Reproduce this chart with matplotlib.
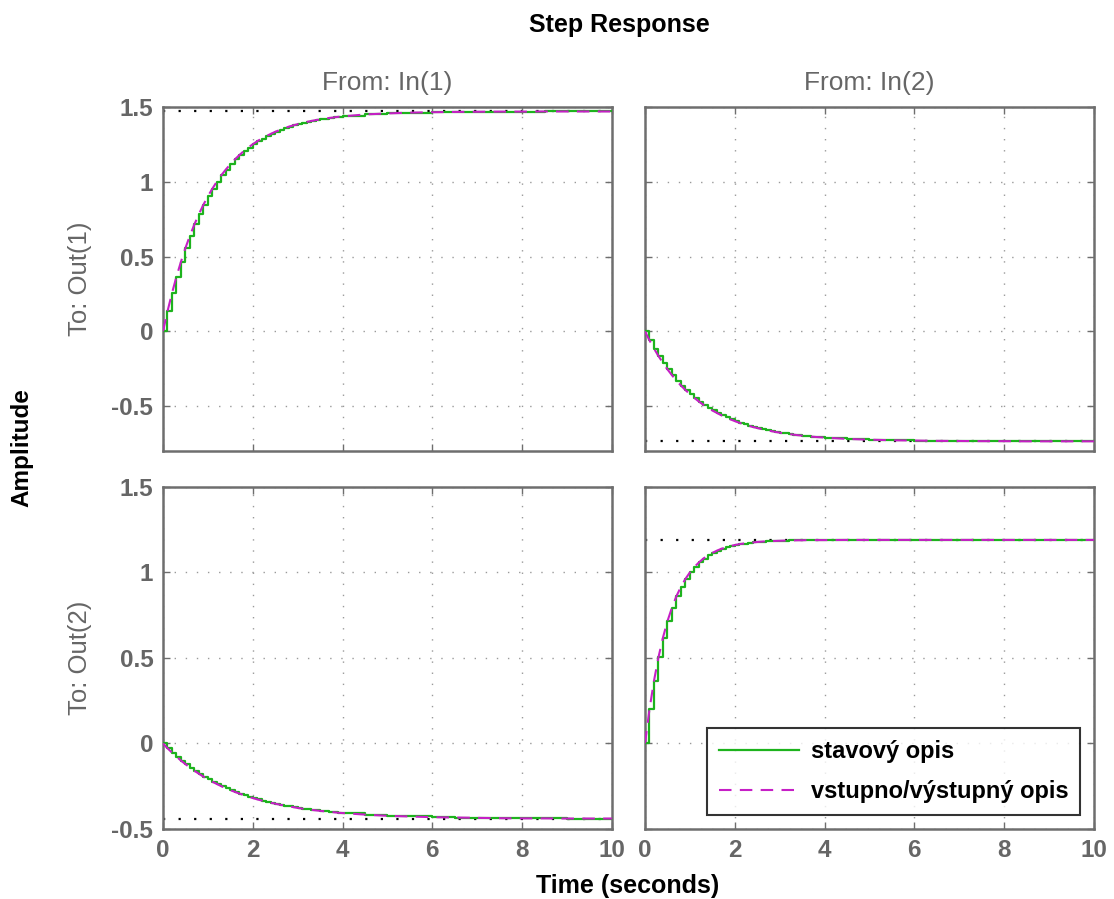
import matplotlib
matplotlib.use('Agg')
import matplotlib.pyplot as plt

plt.rcParams['font.family'] = ['Liberation Sans', 'DejaVu Sans']
plt.rcParams['axes.unicode_minus'] = False

# sample times (0.1 s steps at the start, coarser once the responses have settled)
t = [0.0, 0.1, 0.2, 0.3, 0.4, 0.5, 0.6, 0.7, 0.8, 0.9,
     1.0, 1.1, 1.2, 1.3, 1.4, 1.5, 1.6, 1.7, 1.8, 1.9,
     2.0, 2.1, 2.2, 2.3, 2.4, 2.5, 2.6, 2.7, 2.8, 2.9,
     3.0, 3.1, 3.2, 3.3, 3.4, 3.5, 3.6, 3.7, 3.8, 3.9,
     4.0, 4.5, 5.0, 5.5, 6.0, 6.5, 7.0, 7.5, 8.0, 8.5, 9.0, 9.5, 10.0]

# From In(1) to Out(1)
y11 = [0.0, 0.133, 0.255, 0.365, 0.465, 0.557, 0.640, 0.715, 0.784, 0.846,
       0.903, 0.954, 1.001, 1.044, 1.082, 1.117, 1.149, 1.178, 1.205, 1.229,
       1.251, 1.271, 1.289, 1.305, 1.320, 1.334, 1.346, 1.358, 1.368, 1.377,
       1.385, 1.393, 1.400, 1.406, 1.412, 1.417, 1.422, 1.426, 1.430, 1.434,
       1.437, 1.450, 1.457, 1.462, 1.465, 1.467, 1.468, 1.469, 1.469, 1.470, 1.470, 1.470, 1.470]
# From In(2) to Out(1)
y12 = [0.0, -0.060, -0.115, -0.165, -0.211, -0.254, -0.293, -0.329, -0.362, -0.392,
       -0.420, -0.445, -0.469, -0.491, -0.510, -0.529, -0.545, -0.561, -0.575, -0.588,
       -0.600, -0.611, -0.621, -0.630, -0.639, -0.646, -0.654, -0.660, -0.666, -0.672,
       -0.677, -0.682, -0.686, -0.690, -0.694, -0.697, -0.700, -0.703, -0.706, -0.708,
       -0.710, -0.719, -0.724, -0.728, -0.730, -0.732, -0.733, -0.734, -0.734, -0.735, -0.735, -0.735, -0.735]
# From In(1) to Out(2)
y21 = [0.0, -0.028, -0.053, -0.077, -0.100, -0.121, -0.141, -0.160, -0.177, -0.194,
       -0.209, -0.224, -0.237, -0.250, -0.262, -0.273, -0.283, -0.293, -0.302, -0.311,
       -0.319, -0.327, -0.334, -0.340, -0.347, -0.352, -0.358, -0.363, -0.368, -0.372,
       -0.377, -0.381, -0.384, -0.388, -0.391, -0.394, -0.397, -0.400, -0.402, -0.405,
       -0.407, -0.416, -0.423, -0.427, -0.431, -0.433, -0.435, -0.437, -0.438, -0.438, -0.439, -0.439, -0.439]
# From In(2) to Out(2)
y22 = [0.0, 0.200, 0.366, 0.504, 0.619, 0.715, 0.794, 0.861, 0.916, 0.962,
       1.000, 1.032, 1.058, 1.081, 1.099, 1.114, 1.127, 1.138, 1.146, 1.154,
       1.160, 1.165, 1.169, 1.173, 1.175, 1.178, 1.180, 1.182, 1.183, 1.184,
       1.185, 1.186, 1.187, 1.187, 1.188, 1.188, 1.189, 1.189, 1.189, 1.189,
       1.189, 1.190, 1.190, 1.190, 1.190, 1.190, 1.190, 1.190, 1.190, 1.190, 1.190, 1.190, 1.190]

finals = [[1.47, -0.735], [-0.44, 1.19]]
responses = [[y11, y12], [y21, y22]]

in_labels = ['From: In(1)', 'From: In(2)']
out_labels = ['To: Out(1)', 'To: Out(2)']
row_ylims = [(-0.8, 1.5), (-0.5, 1.5)]
yticks = [-0.5, 0, 0.5, 1, 1.5]
ytick_labels = ['-0.5', '0', '0.5', '1', '1.5']
xticks = [0, 2, 4, 6, 8, 10]
xtick_labels = ['0', '2', '4', '6', '8', '10']

green = '#1db31d'
magenta = '#c61fc6'
gray_txt = '#666666'
spine_col = '#6e6e6e'

fig = plt.figure(figsize=(11.14, 8.99), dpi=100)

lefts = [0.1463, 0.579]
bottoms = [0.4983, 0.0779]
w = 0.403
h = [0.3827, 0.3805]

axes = [[None, None], [None, None]]
for r in range(2):
    for c in range(2):
        ax = fig.add_axes([lefts[c], bottoms[r], w, h[r]])
        axes[r][c] = ax
        y = responses[r][c]
        ax.axhline(finals[r][c], color='k', linestyle=(0, (1, 6)), lw=1.6, zorder=1)
        ax.step(t, y, where='post', color=green, lw=1.6, zorder=3, label='stavový opis')
        ax.plot(t, y, color=magenta, lw=1.5, dashes=(6, 4), zorder=4, label='vstupno/výstupný opis')
        ax.set_xlim(0, 10)
        ax.set_ylim(*row_ylims[r])
        ax.set_xticks(xticks, xtick_labels)
        ax.set_yticks(yticks, ytick_labels)
        ax.grid(True, color='#9a9a9a', linestyle=(0, (1, 7)), lw=1.0)
        ax.tick_params(direction='in', length=5, width=1, colors=spine_col,
                       top=True, right=True, labelsize=17.5, labelcolor=gray_txt, pad=7)
        for s in ax.spines.values():
            s.set_color(spine_col)
            s.set_linewidth(1.8)
        for lab in ax.get_xticklabels() + ax.get_yticklabels():
            lab.set_fontweight('bold')
        if r == 0:
            ax.tick_params(labelbottom=False)
            ax.set_title(in_labels[c], color=gray_txt, fontsize=19, pad=12)
        if c == 1:
            ax.tick_params(labelleft=False)
        else:
            ax.set_ylabel(out_labels[r], color=gray_txt, fontsize=18.5, labelpad=14)

leg = axes[1][1].legend(loc='lower right', fontsize=17, frameon=True, fancybox=False,
                        handlelength=3.4, handletextpad=0.5, borderpad=0.5, labelspacing=0.75,
                        borderaxespad=0, bbox_to_anchor=(0.97, 0.04))
leg.get_frame().set_edgecolor('black')
leg.get_frame().set_linewidth(1.5)
for txt in leg.get_texts():
    txt.set_fontweight('bold')

fig.text(0.556, 0.972, 'Step Response', ha='center', va='center', fontsize=18, fontweight='bold')
fig.text(0.02, 0.502, 'Amplitude', ha='center', va='center', rotation=90, fontsize=17.5, fontweight='bold')
fig.text(0.5637, 0.014, 'Time (seconds)', ha='center', va='center', fontsize=18, fontweight='bold')

fig.savefig('out.png', dpi=100)
